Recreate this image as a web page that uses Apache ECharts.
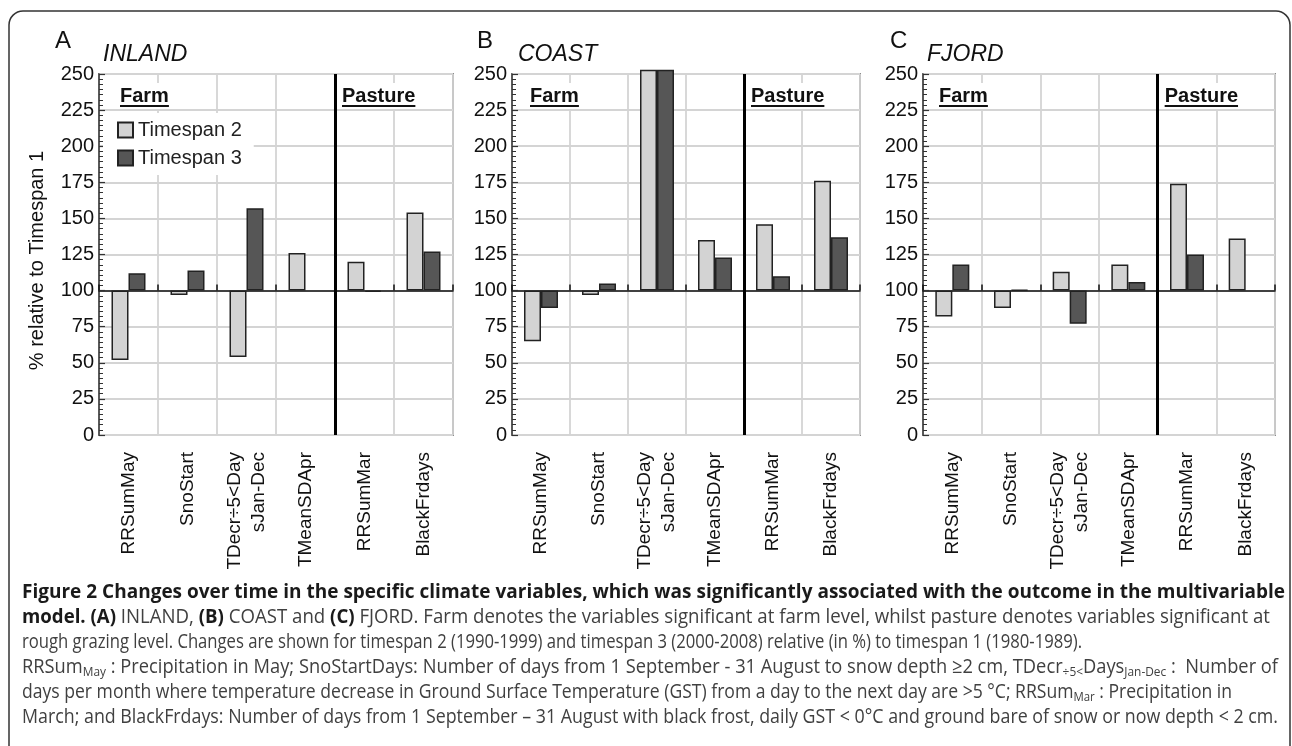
<!DOCTYPE html>
<html>
<head>
<meta charset="utf-8">
<script src="https://cdn.jsdelivr.net/npm/echarts@6.0.0/dist/echarts.min.js"></script>
<style>
html,body{margin:0;padding:0;background:#fff;}
#c{width:1292px;height:746px;}
</style>
</head>
<body>
<div id="c"></div>
<script>
// ---------------- DATA ----------------
const categories = ['RRSumMay', 'SnoStart', 'TDecr÷5<Day\nsJan-Dec', 'TMeanSDApr', 'RRSumMar', 'BlackFrdays'];
const seriesNames = ['Timespan 2', 'Timespan 3'];
const panelLetters = ['A', 'B', 'C'];
const panelNames = ['INLAND', 'COAST', 'FJORD'];
const groupLabels = ['Farm', 'Pasture'];
const farmCount = 4;               // first 4 variables are farm level, last 2 pasture
const yMin = 0, yMax = 250, yStep = 25, baseline = 100;

// % relative to Timespan 1
const inlandT2 = [52, 97, 54, 126, 120, 154];
const inlandT3 = [112, 114, 157, null, 99, 127];
const coastT2  = [65, 97, 253, 135, 146, 176];   // TDecr bars run off the top of the axis
const coastT3  = [88, 105, 253, 123, 110, 137];
const fjordT2  = [82, 88, 113, 118, 174, 136];
const fjordT3  = [118, 100.5, 77, 106, 125, null];

const panelT2 = [inlandT2, coastT2, fjordT2];
const panelT3 = [inlandT3, coastT3, fjordT3];

// ---------------- LAYOUT / STYLE ----------------
const FONT = '"Liberation Sans", Arial, sans-serif';
const CAP_FONT = '"Open Sans", "Noto Sans", sans-serif';
const gridLeft = [99, 512, 923];
const gridWidth = [354, 348, 352];
const gridTop = 74, gridHeight = 361;
const gridColor = '#d4d4d4';
const letterX = [55, 477, 890];
const nameX = [103, 518, 927];
const farmOffset = [20, 17, 15];

const ctx = document.createElement('canvas').getContext('2d');
function tw(font, s) { ctx.font = font; return ctx.measureText(s).width; }

const chart = echarts.init(document.getElementById('c'));

const grids = [], xAxes = [], yAxes = [], series = [], graphics = [];

graphics.push({
  type: 'rect', z: 0, silent: true,
  shape: { x: 9, y: 11, width: 1281, height: 800, r: 14 },
  style: { fill: 'none', stroke: '#333', lineWidth: 1.5 }
});

for (let i = 0; i < 3; i++) {
  grids.push({
    left: gridLeft[i], top: gridTop, width: gridWidth[i], height: gridHeight,
    show: true, borderColor: '#333', borderWidth: 1.5, backgroundColor: 'transparent',
    outerBoundsMode: 'none', containLabel: false
  });
  // label axis
  xAxes.push({
    type: 'category', gridIndex: i, data: categories, position: 'bottom',
    axisLine: { show: false, onZero: false },
    axisTick: { show: false },
    axisLabel: { interval: 0, rotate: 90, margin: 17, fontSize: 19, color: '#111', fontFamily: FONT, lineHeight: 24, hideOverlap: false },
    splitLine: { show: true, interval: 0, lineStyle: { color: gridColor, width: 1.8 } }
  });
  // baseline axis at 100
  xAxes.push({
    type: 'category', gridIndex: i, data: categories, position: 'bottom',
    axisLine: { show: true, onZero: true, lineStyle: { color: '#111', width: 1.5 } },
    axisTick: { show: true, inside: true, length: 6, interval: 0, lineStyle: { color: '#111', width: 1.5 } },
    axisLabel: { show: false },
    splitLine: { show: false }
  });
  // value axis for the farm/pasture divider
  xAxes.push({
    type: 'value', gridIndex: i, min: 0, max: categories.length, show: false,
    axisLine: { onZero: false }, splitLine: { show: false }
  });

  yAxes.push({
    type: 'value', gridIndex: i,
    min: yMin - baseline, max: yMax - baseline, interval: yStep,
    axisLine: { show: true, onZero: false, lineStyle: { color: '#333', width: 1.5 } },
    axisTick: { show: true, inside: true, length: 6, lineStyle: { color: '#333', width: 1.2 } },
    minorTick: { show: true, splitNumber: 7, length: 4, lineStyle: { color: '#333', width: 1 } },
    minorSplitLine: { show: false },
    splitLine: { show: true, lineStyle: { color: gridColor, width: 1.8 } },
    axisLabel: { formatter: v => String(v + baseline), fontSize: 20, color: '#111', fontFamily: FONT, margin: 5 },
    name: i === 0 ? '% relative to Timespan 1' : '',
    nameLocation: 'middle', nameGap: 52,
    nameTextStyle: { fontSize: 20, color: '#111', fontFamily: FONT, padding: [0, 12, 0, 0] }
  });

  const t2 = panelT2[i], t3 = panelT3[i];
  series.push({
    type: 'bar', name: seriesNames[0], xAxisIndex: 3 * i, yAxisIndex: i,
    data: t2.map(v => v == null ? null : v - baseline),
    barWidth: 17, barGap: '0%', clip: false, z: 3,
    itemStyle: { color: '#d3d3d3', borderColor: '#222', borderWidth: 1.5 }
  });
  series.push({
    type: 'bar', name: seriesNames[1], xAxisIndex: 3 * i, yAxisIndex: i,
    data: t3.map(v => v == null ? null : v - baseline),
    barWidth: 17, barGap: '0%', clip: false, z: 3,
    itemStyle: { color: '#565656', borderColor: '#222', borderWidth: 1.5 }
  });
  series.push({
    type: 'line', xAxisIndex: 3 * i + 2, yAxisIndex: i, data: [], silent: true,
    markLine: {
      symbol: 'none', silent: true, label: { show: false }, animation: false,
      lineStyle: { color: '#000', width: 3, type: 'solid' },
      data: [{ xAxis: farmCount }]
    }
  });

  // panel letter and region name
  graphics.push({ type: 'text', x: letterX[i], y: 41, z: 10, silent: true,
    style: { text: panelLetters[i], font: '24px ' + FONT, fill: '#111', verticalAlign: 'middle' } });
  graphics.push({ type: 'text', x: nameX[i], y: 55, z: 10, silent: true,
    style: { text: panelNames[i], font: 'italic 23px ' + FONT, fill: '#111', verticalAlign: 'middle' } });

  // Farm / Pasture labels (underlined)
  const divX = gridLeft[i] + gridWidth[i] * farmCount / categories.length;
  const labX = [gridLeft[i] + farmOffset[i], divX + 6];
  const bf = 'bold 20px ' + FONT;
  for (let k = 0; k < 2; k++) {
    const w = tw(bf, groupLabels[k]);
    graphics.push({ type: 'text', x: labX[k], y: 96, z: 10, silent: true,
      style: { text: groupLabels[k], font: bf, fill: '#111', verticalAlign: 'middle',
        backgroundColor: '#fff', padding: [2, 1, 4, 1] } });
    graphics.push({ type: 'line', z: 11, silent: true,
      shape: { x1: labX[k] + 1, y1: 106, x2: labX[k] + 1 + w, y2: 106 },
      style: { stroke: '#111', lineWidth: 2 } });
  }
}

// ---------------- CAPTION ----------------
const capStyles = {
  b: { font: 'bold 20px ' + CAP_FONT, rich: { fontFamily: CAP_FONT, fontSize: 20, fontWeight: 'bold', fill: '#1a1a1a' } },
  r: { font: '20px ' + CAP_FONT, rich: { fontFamily: CAP_FONT, fontSize: 20, fontWeight: 'normal', fill: '#404040' } },
  s: { font: '13px ' + CAP_FONT, rich: { fontFamily: CAP_FONT, fontSize: 13, fontWeight: 'normal', fill: '#404040', padding: [10, 0, 0, 0] } }
};
const captionLines = [
  [['b', 'Figure 2 Changes over time in the specific climate variables, which was significantly associated with the outcome in the multivariable']],
  [['b', 'model. (A)'], ['r', ' INLAND, '], ['b', '(B)'], ['r', ' COAST and '], ['b', '(C)'], ['r', ' FJORD. Farm denotes the variables significant at farm level, whilst pasture denotes variables significant at']],
  [['r', 'rough grazing level. Changes are shown for timespan 2 (1990-1999) and timespan 3 (2000-2008) relative (in %) to timespan 1 (1980-1989).']],
  [['r', 'RRSum'], ['s', 'May'], ['r', ' : Precipitation in May; SnoStartDays: Number of days from 1 September - 31 August to snow depth ≥2 cm, TDecr'], ['s', '÷5<'], ['r', 'Days'], ['s', 'Jan-Dec'], ['r', ' :  Number of']],
  [['r', 'days per month where temperature decrease in Ground Surface Temperature (GST) from a day to the next day are >5 °C; RRSum'], ['s', 'Mar'], ['r', ' : Precipitation in']],
  [['r', 'March; and BlackFrdays: Number of days from 1 September – 31 August with black frost, daily GST < 0°C and ground bare of snow or now depth < 2 cm.']]
];
const capX = 22, capY0 = 592, capPitch = 25;
const capRight = [1285, 1270, 1082, 1278, 1232, 1278];
captionLines.forEach((segs, j) => {
  let w = 0, str = '';
  segs.forEach(([st, t]) => { w += tw(capStyles[st].font, t); str += '{' + st + '|' + t + '}'; });
  const sx = (capRight[j] - capX) / w;
  graphics.push({ type: 'text', x: capX, y: capY0 + j * capPitch, scaleX: sx, z: 10, silent: true,
    style: { text: str, verticalAlign: 'middle', fill: '#404040',
      rich: { b: capStyles.b.rich, r: capStyles.r.rich, s: capStyles.s.rich } } });
});

chart.setOption({
  animation: false,
  backgroundColor: '#fff',
  textStyle: { fontFamily: FONT },
  grid: grids,
  xAxis: xAxes,
  yAxis: yAxes,
  legend: {
    data: seriesNames, orient: 'vertical', left: 103, top: 113,
    backgroundColor: '#fff', padding: [7, 12, 7, 14],
    itemWidth: 15, itemHeight: 15, itemGap: 8, icon: 'rect',
    textStyle: { fontSize: 20, color: '#222', fontFamily: FONT },
    selectedMode: false
  },
  series: series,
  graphic: graphics
});
</script>
</body>
</html>
